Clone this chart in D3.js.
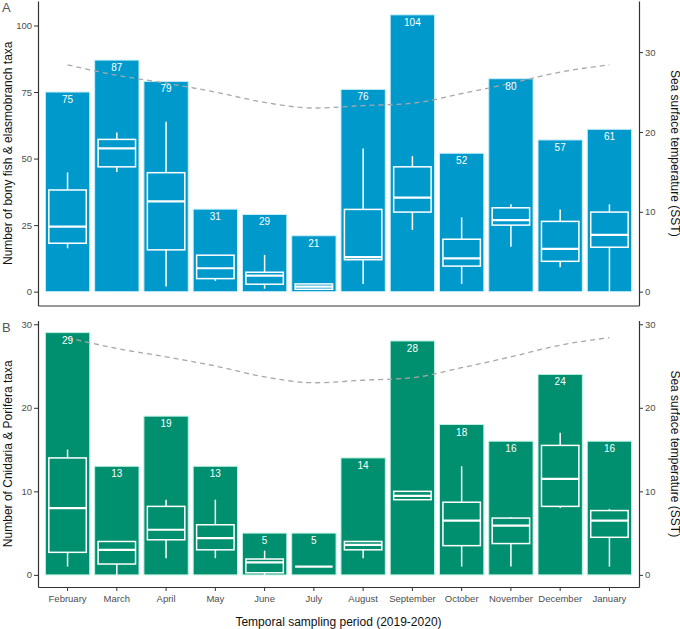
<!DOCTYPE html>
<html>
<head>
<meta charset="utf-8">
<script src="https://cdn.jsdelivr.net/npm/d3@7"></script>
<style>
  body { margin: 0; background: #fff; }
  svg { display: block; font-family: "Liberation Sans", Arial, sans-serif; }
</style>
</head>
<body>
<svg id="chart" width="680" height="629"></svg>
<script>
// ---- data ----
const months = ["February","March","April","May","June","July","August","September","October","November","December","January"];

// Panel A: bony fish & elasmobranch taxa
const fishTotal  = [75, 87, 79, 31, 29, 21, 76, 104, 52, 80, 57, 61];
const fishLow    = [16.3, 45.0, 1.9, 4.0, 1.1, 1.0, 2.9, 23.2, 2.9, 16.9, 9.2, 0];
const fishQ1     = [18.2, 46.9, 15.7, 4.9, 2.8, 0.9, 12.0, 29.9, 9.6, 25.0, 11.4, 16.7];
const fishMedian = [24.4, 53.8, 33.9, 8.8, 6.0, 1.9, 13.0, 35.3, 12.5, 26.9, 16.1, 21.3];
const fishQ3     = [38.2, 57.2, 44.7, 13.7, 7.3, 2.9, 30.9, 46.9, 19.7, 31.5, 26.4, 29.9];
const fishHigh   = [44.8, 59.8, 63.8, 13.7, 13.8, 2.9, 53.8, 50.9, 27.9, 32.8, 30.9, 32.8];

// Panel B: Cnidaria & Porifera taxa
const cnidTotal  = [29, 13, 19, 13, 5, 5, 14, 28, 18, 16, 24, 16];
const cnidLow    = [1.0, 0, 2.0, 2.0, 0, 1.0, 2.0, 9.0, 1.0, 1.0, 8.0, 1.0];
const cnidQ1     = [2.7, 1.3, 4.2, 3.0, 0.25, 1.0, 3.0, 9.0, 3.5, 3.75, 8.2, 4.5];
const cnidMedian = [8.0, 3.0, 5.4, 4.4, 1.5, 1.0, 3.6, 9.45, 6.5, 5.9, 11.5, 6.5];
const cnidQ3     = [14.0, 4.0, 8.2, 6.0, 1.9, 1.0, 4.0, 10.0, 8.7, 6.8, 15.5, 7.7];
const cnidHigh   = [15.0, 4.0, 9.0, 9.0, 2.9, 1.0, 4.0, 10.0, 13.0, 6.9, 17.0, 7.9];

// Sea surface temperature (SST, smoothed)
const sst = [28.4, 27.1, 26.1, 25.0, 23.7, 23.0, 23.3, 23.6, 24.8, 26.1, 27.5, 28.4];

// tick values
const fishTicks = [0, 25, 50, 75, 100];
const fishSstTicks = [0, 10, 20, 30];
const cnidTicks = [0, 10, 20, 30];
const cnidSstTicks = [0, 10, 20, 30];

// ---- drawing ----
const svg = d3.select("#chart");
const left = 38, right = 639;
const axisColor = "#333333";
const tickTextColor = "#4d4d4d";

const x = d3.scaleBand().domain(months).range([left, right]).paddingInner(0.1).paddingOuter(0.15);
const step = x.step();
const boxW = step * 0.76;

function panel(opts) {
  const g = svg.append("g");
  const y = d3.scaleLinear().domain(opts.domain).range([opts.bottom, opts.top]);
  const ySst = d3.scaleLinear().domain(opts.domain.map(v => v / opts.sstFactor)).range([opts.bottom, opts.top]);

  const rows = months.map((m, i) => ({
    m, total: opts.total[i], low: opts.low[i], q1: opts.q1[i], med: opts.med[i], q3: opts.q3[i], high: opts.high[i], sst: sst[i]
  }));

  // bars
  g.selectAll("rect.bar").data(rows).join("rect")
    .attr("class", "bar")
    .attr("x", d => x(d.m))
    .attr("width", x.bandwidth())
    .attr("y", d => y(d.total))
    .attr("height", d => y(0) - y(d.total))
    .attr("fill", opts.fill)
    .attr("stroke", opts.edge)
    .attr("stroke-width", 1);

  // boxplots
  const bx = g.selectAll("g.box").data(rows).join("g").attr("class", "box");
  bx.append("line")
    .attr("x1", d => x(d.m) + x.bandwidth() / 2).attr("x2", d => x(d.m) + x.bandwidth() / 2)
    .attr("y1", d => y(d.high)).attr("y2", d => y(d.q3))
    .attr("stroke", "#fff").attr("stroke-width", 1.5);
  bx.append("line")
    .attr("x1", d => x(d.m) + x.bandwidth() / 2).attr("x2", d => x(d.m) + x.bandwidth() / 2)
    .attr("y1", d => y(d.q1)).attr("y2", d => y(d.low))
    .attr("stroke", "#fff").attr("stroke-width", 1.5);
  bx.append("rect")
    .attr("x", d => x(d.m) + x.bandwidth() / 2 - boxW / 2)
    .attr("width", boxW)
    .attr("y", d => y(d.q3))
    .attr("height", d => Math.max(0, y(d.q1) - y(d.q3)))
    .attr("fill", "none").attr("stroke", "#fff").attr("stroke-width", 1.5);
  bx.append("line")
    .attr("x1", d => x(d.m) + x.bandwidth() / 2 - boxW / 2)
    .attr("x2", d => x(d.m) + x.bandwidth() / 2 + boxW / 2)
    .attr("y1", d => y(d.med)).attr("y2", d => y(d.med))
    .attr("stroke", "#fff").attr("stroke-width", 2.2);

  // SST line
  const line = d3.line()
    .x(d => x(d.m) + x.bandwidth() / 2)
    .y(d => ySst(d.sst))
    .curve(d3.curveMonotoneX);
  g.append("path").datum(rows)
    .attr("d", line)
    .attr("fill", "none")
    .attr("stroke", "#a8a8a8")
    .attr("stroke-width", 1.3)
    .attr("stroke-dasharray", "5,4");

  // labels
  g.selectAll("text.val").data(rows).join("text")
    .attr("class", "val")
    .attr("x", d => x(d.m) + x.bandwidth() / 2)
    .attr("y", d => y(d.total) + 11)
    .attr("text-anchor", "middle")
    .attr("fill", "#fff")
    .attr("font-size", "10px")
    .text(d => d.total);

  // axes
  const styleAxis = sel => {
    sel.select(".domain").attr("stroke", axisColor).attr("stroke-width", 1.2);
    sel.selectAll(".tick line").attr("stroke", axisColor).attr("stroke-width", 1);
    sel.selectAll(".tick text").attr("fill", tickTextColor).attr("font-size", "9.5px")
      .attr("font-family", "'Liberation Sans', Arial, sans-serif");
  };
  const yAxisG = g.append("g").attr("transform", `translate(${left},0)`)
    .call(d3.axisLeft(y).tickValues(opts.ticks).tickSize(4).tickSizeOuter(0).tickPadding(2));
  styleAxis(yAxisG);
  const rAxisG = g.append("g").attr("transform", `translate(${right},0)`)
    .call(d3.axisRight(ySst).tickValues(opts.sstTicks).tickSize(4).tickSizeOuter(0).tickPadding(2));
  styleAxis(rAxisG);
  const xAxisG = g.append("g").attr("transform", `translate(0,${opts.bottom})`)
    .call(d3.axisBottom(x).tickSize(opts.showX ? 4 : 0).tickSizeOuter(0).tickPadding(3));
  styleAxis(xAxisG);
  if (!opts.showX) xAxisG.selectAll(".tick").remove();
  else xAxisG.selectAll(".tick text").attr("dy", "0.85em");

  // titles
  const cy = (opts.top + opts.bottom) / 2;
  svg.append("text")
    .attr("transform", `translate(12,${cy}) rotate(-90)`)
    .attr("text-anchor", "middle")
    .attr("font-size", "12px").attr("fill", "#111")
    .text(opts.title);
  svg.append("text")
    .attr("transform", `translate(670.5,${cy}) rotate(90)`)
    .attr("text-anchor", "middle")
    .attr("font-size", "12px").attr("fill", "#111")
    .text("Sea surface temperature (SST)");
  svg.append("text")
    .attr("x", 2).attr("y", opts.top + 11)
    .attr("font-size", "13px").attr("fill", "#555")
    .text(opts.letter);
}

panel({
  domain: [-5.2, 109.2], top: 1, bottom: 305.5, sstFactor: 3,
  total: fishTotal, low: fishLow, q1: fishQ1, med: fishMedian, q3: fishQ3, high: fishHigh,
  ticks: fishTicks, sstTicks: fishSstTicks,
  fill: "#0099cc", edge: "#c8eefa", showX: false,
  title: "Number of bony fish & elasmobranch taxa", letter: "A"
});

panel({
  domain: [-1.45, 30.45], top: 320.5, bottom: 587, sstFactor: 1,
  total: cnidTotal, low: cnidLow, q1: cnidQ1, med: cnidMedian, q3: cnidQ3, high: cnidHigh,
  ticks: cnidTicks, sstTicks: cnidSstTicks,
  fill: "#008f6f", edge: "#bdf2e2", showX: true,
  title: "Number of Cnidaria & Porifera taxa", letter: "B"
});

svg.append("text")
  .attr("x", 338.5).attr("y", 626)
  .attr("text-anchor", "middle")
  .attr("font-size", "12px").attr("fill", "#111")
  .text("Temporal sampling period (2019-2020)");
</script>
</body>
</html>
